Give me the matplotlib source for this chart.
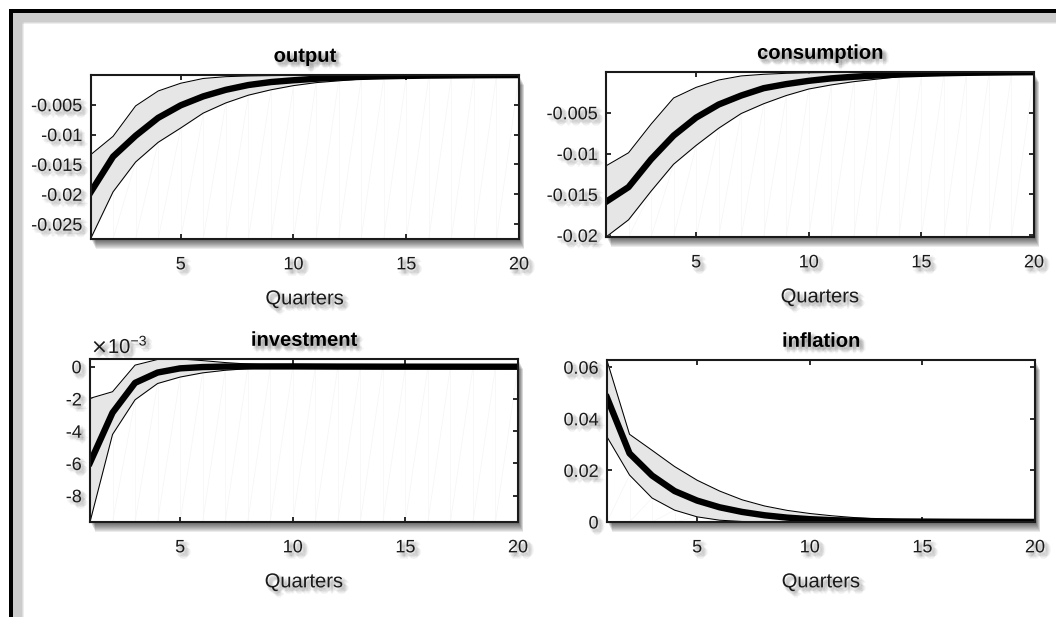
import matplotlib
matplotlib.use("Agg")
import matplotlib.pyplot as plt
import matplotlib.patheffects as pe
from matplotlib.lines import Line2D
from matplotlib.patches import Rectangle

plt.rcParams["font.family"] = ["Liberation Sans", "DejaVu Sans"]

# ---------------------------------------------------------------- data
quarters = list(range(1, 21))
xticks = [5, 10, 15, 20]
xtick_labels = ["5", "10", "15", "20"]
xlabel = "Quarters"

titles = ["output", "consumption", "investment", "inflation"]

output_mean = [-0.0197, -0.0137, -0.0102, -0.0072, -0.0051, -0.0036, -0.0025, -0.0017,
               -0.0012, -0.0009, -0.00065, -0.00046, -0.00033, -0.00024, -0.00017,
               -0.00012, -0.00009, -0.00006, -0.00004, -0.00003]
output_upper = [-0.0134, -0.0103, -0.0052, -0.0027, -0.0014, -0.0006, -0.0003, -0.00018,
                -0.00012, -0.00008, -0.00006, -0.00005, -0.00004, -0.00004, -0.00003,
                -0.00003, -0.00002, -0.00002, -0.00002, -0.00002]
output_lower = [-0.0275, -0.0196, -0.0146, -0.0113, -0.0089, -0.0064, -0.0047, -0.0034,
                -0.0025, -0.0018, -0.0013, -0.0010, -0.0007, -0.0005, -0.00035,
                -0.00025, -0.00018, -0.00012, -0.00009, -0.00006]
output_ylim = (-0.0275, -0.00002)
output_yticks = [-0.025, -0.02, -0.015, -0.01, -0.005]
output_yticklabels = ["-0.025", "-0.02", "-0.015", "-0.01", "-0.005"]

consumption_mean = [-0.0159, -0.0141, -0.0107, -0.0078, -0.0056, -0.0040, -0.0029, -0.0020,
                    -0.0015, -0.0011, -0.0008, -0.0006, -0.00045, -0.00033, -0.00024,
                    -0.00017, -0.00012, -0.00009, -0.00006, -0.00004]
consumption_upper = [-0.0115, -0.0099, -0.0064, -0.0032, -0.0019, -0.0010, -0.0005, -0.0003,
                     -0.00018, -0.00012, -0.00008, -0.00006, -0.00005, -0.00004, -0.00003,
                     -0.00003, -0.00002, -0.00002, -0.00002, -0.00002]
consumption_lower = [-0.0202, -0.0181, -0.0146, -0.0113, -0.0090, -0.0069, -0.0051, -0.0039,
                     -0.0029, -0.0021, -0.0016, -0.0012, -0.0009, -0.0006, -0.00045,
                     -0.00032, -0.00023, -0.00016, -0.00011, -0.00008]
consumption_ylim = (-0.0202, -0.00002)
consumption_yticks = [-0.02, -0.015, -0.01, -0.005]
consumption_yticklabels = ["-0.02", "-0.015", "-0.01", "-0.005"]

investment_mean = [-0.00595, -0.00285, -0.00100, -0.00036, -0.00010, -0.00002, 0.00001,
                   0.00002, 0.00002, 0.00002, 0.000015, 0.00001, 0.000008, 0.000005,
                   0.000004, 0.000003, 0.000002, 0.000001, 0.000001, 0.0000005]
investment_upper = [-0.00196, -0.00155, 0.00010, 0.00045, 0.00048, 0.00038, 0.00026,
                    0.00017, 0.00011, 0.00007, 0.00005, 0.00003, 0.00002, 0.000015,
                    0.00001, 0.000008, 0.000006, 0.000004, 0.000003, 0.000002]
investment_lower = [-0.00963, -0.00420, -0.00205, -0.00104, -0.00064, -0.00038, -0.00022,
                    -0.00012, -0.00007, -0.00004, -0.000025, -0.000015, -0.00001,
                    -0.000007, -0.000005, -0.000004, -0.000003, -0.000002, -0.0000015,
                    -0.000001]
investment_ylim = (-0.00963, 0.00048)
investment_yticks = [-0.008, -0.006, -0.004, -0.002, 0.0]
investment_yticklabels = ["-8", "-6", "-4", "-2", "0"]
investment_scale = r"$\times\mathregular{10^{-3}}$"

inflation_mean = [0.0482, 0.0266, 0.0180, 0.0120, 0.0083, 0.0057, 0.0039, 0.0026, 0.0017,
                  0.0011, 0.0007, 0.0005, 0.0003, 0.0002, 0.00015, 0.0001, 0.00007,
                  0.00005, 0.00003, 0.00002]
inflation_upper = [0.0626, 0.0340, 0.0278, 0.0215, 0.0162, 0.0120, 0.0086, 0.0062, 0.0045,
                   0.0033, 0.0024, 0.0017, 0.0012, 0.0009, 0.0006, 0.00045, 0.0003,
                   0.00022, 0.00016, 0.00012]
inflation_lower = [0.0330, 0.0182, 0.0093, 0.0046, 0.0020, 0.0007, 0.0002, 0.0001, 0.00005,
                   0.00003, 0.00002, 0.00001, 0.00001, 0.000005, 0.000005, 0.000003,
                   0.000002, 0.000002, 0.000001, 0.000001]
inflation_ylim = (0.0, 0.0628)
inflation_yticks = [0.0, 0.02, 0.04, 0.06]
inflation_yticklabels = ["0", "0.02", "0.04", "0.06"]

# ---------------------------------------------------------------- layout
W, H = 1056, 617
fig = plt.figure(figsize=(W / 100, H / 100), dpi=100, facecolor="white")

PX = 72 / 100  # points per pixel
INK = "#1a1a1a"


def fig_box(x0, x1, y0, y1):
    """Pixel box (top-left origin) -> figure fraction [l, b, w, h]."""
    return [x0 / W, 1 - y1 / H, (x1 - x0) / W, (y1 - y0) / H]


def soft_shadow(offset=3.5, radius=3.0, steps=5, alpha=0.05, color="0.2"):
    """Blurred drop shadow built from many faint offset copies."""
    fx = []
    for i in range(steps):
        for j in range(steps):
            dx = -radius + 2 * radius * i / (steps - 1)
            dy = -radius + 2 * radius * j / (steps - 1)
            if dx * dx + dy * dy > radius * radius * 1.05:
                continue
            fx.append(pe.SimplePatchShadow(offset=((offset + dx) * PX, -(offset + dy) * PX),
                                           shadow_rgbFace=color, alpha=alpha))
    fx.append(pe.Normal())
    return fx


def box_shadow(x0, x1, y0, y1, depth=10, alpha=0.08):
    """Soft drop shadow under an axes box, drawn on the figure behind it."""
    for d in range(1, depth + 1):
        fig.add_artist(Rectangle(((x0 + 0.5 * d) / W, 1 - (y1 + d) / H),
                                 (x1 - x0) / W, (y1 - y0) / H,
                                 transform=fig.transFigure, facecolor="black",
                                 edgecolor="none", alpha=alpha, zorder=-5))


# page frame (only its top and left edges fall inside the image) with inner shadow
for d in range(1, 12):
    a = 0.07
    fig.add_artist(Line2D([(11 + d) / W, 1.0], [1 - (11 + d) / H, 1 - (11 + d) / H],
                          transform=fig.transFigure, color="black", alpha=a,
                          lw=3 * PX, solid_capstyle="butt", zorder=-6))
    fig.add_artist(Line2D([(11 + d) / W, (11 + d) / W], [1 - (11 + d) / H, 0.0],
                          transform=fig.transFigure, color="black", alpha=a,
                          lw=3 * PX, solid_capstyle="butt", zorder=-6))
fig.add_artist(Line2D([9 / W, 1.0], [1 - 11 / H, 1 - 11 / H], transform=fig.transFigure,
                      color="black", lw=4 * PX, solid_capstyle="butt", zorder=10))
fig.add_artist(Line2D([11 / W, 11 / W], [1 - 9 / H, 0.0], transform=fig.transFigure,
                      color="black", lw=4 * PX, solid_capstyle="butt", zorder=10))

panels = [
    dict(box=(90.5, 519, 75, 239), mean=output_mean, upper=output_upper, lower=output_lower,
         ylim=output_ylim, yticks=output_yticks, ylabels=output_yticklabels),
    dict(box=(606, 1034, 72, 237), mean=consumption_mean, upper=consumption_upper,
         lower=consumption_lower, ylim=consumption_ylim, yticks=consumption_yticks,
         ylabels=consumption_yticklabels),
    dict(box=(90, 518, 359, 522), mean=investment_mean, upper=investment_upper,
         lower=investment_lower, ylim=investment_ylim, yticks=investment_yticks,
         ylabels=investment_yticklabels),
    dict(box=(607, 1035, 360, 522), mean=inflation_mean, upper=inflation_upper,
         lower=inflation_lower, ylim=inflation_ylim, yticks=inflation_yticks,
         ylabels=inflation_yticklabels),
]

for title, p in zip(titles, panels):
    x0, x1, y0, y1 = p["box"]
    box_shadow(x0, x1, y0, y1)
    ax = fig.add_axes(fig_box(x0, x1, y0, y1))
    ax.set_facecolor("white")

    ymin = p["ylim"][0]
    lower = p["lower"]
    # faint rendering seams of the area beneath the band
    for i in range(len(quarters) - 1):
        ax.plot([quarters[i + 1], quarters[i + 1]], [ymin, lower[i + 1]],
                color="#f5f5f5", lw=0.5, zorder=1)
        ax.plot([quarters[i], quarters[i + 1]], [ymin, lower[i + 1]],
                color="#f5f5f5", lw=0.5, zorder=1)

    ax.fill_between(quarters, p["lower"], p["upper"], color="#e6e6e6", lw=0, zorder=2)
    ax.plot(quarters, p["upper"], color="black", lw=0.75, zorder=3)
    ax.plot(quarters, p["lower"], color="black", lw=0.75, zorder=3)
    ax.plot(quarters, p["mean"], color="black", lw=4.6, zorder=4,
            solid_joinstyle="round")

    ax.set_xlim(quarters[0], quarters[-1])
    ax.set_ylim(*p["ylim"])
    ax.set_xticks(xticks)
    ax.set_xticklabels(xtick_labels)
    ax.set_yticks(p["yticks"])
    ax.set_yticklabels(p["ylabels"])

    for s in ax.spines.values():
        s.set_linewidth(1.5)
        s.set_color(INK)
        s.set_zorder(6)
    ax.tick_params(direction="in", length=5 * PX, width=1.3, color=INK,
                   top=True, right=True, labelsize=13, labelcolor=INK)
    ax.tick_params(axis="x", pad=12.5)
    ax.tick_params(axis="y", pad=6)

    for lbl in ax.get_xticklabels() + ax.get_yticklabels():
        lbl.set_path_effects(soft_shadow())

    t = ax.set_title(title, fontsize=14.5, fontweight="bold", color="black", pad=9.5)
    t.set_path_effects(soft_shadow())
    xl = ax.set_xlabel(xlabel, fontsize=14.5, color=INK, labelpad=11.5)
    xl.set_path_effects(soft_shadow())

    if title == "investment":
        st = fig.text(91 / W, 1 - 353 / H, investment_scale, fontsize=14.5, color=INK,
                      ha="left", va="baseline")
        st.set_path_effects(soft_shadow())

fig.savefig("out.png", dpi=100, facecolor="white")
